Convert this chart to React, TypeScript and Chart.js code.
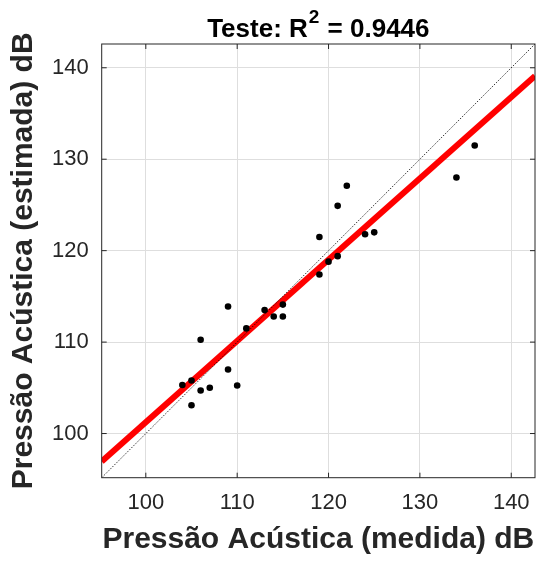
import React, { useEffect, useRef } from 'react';
import { Chart, registerables } from 'chart.js';

Chart.register(...registerables);

// Measured (x) vs estimated (y) acoustic pressure, dB
const measured = [119, 124, 125, 120, 121, 119, 109, 113, 114, 115, 115, 111, 106, 109, 104, 105, 106, 107, 110, 105, 122, 121, 134, 136];
const estimated = [121.5, 121.8, 122.0, 118.8, 119.4, 117.4, 113.9, 113.5, 112.8, 114.1, 112.8, 111.5, 110.25, 107.0, 105.3, 105.8, 104.7, 105.0, 105.25, 103.1, 127.1, 124.9, 128.0, 131.5];

// Fitted regression line
const fitX = [95.17, 142.6];
const fitY = [96.94, 139.1];

// Identity line y = x
const identityX = [95.17, 142.6];
const identityY = [95.17, 142.6];

const tickValues = [100, 110, 120, 130, 140];
const axisMin = 95.17;
const axisMax = 142.6;

const titleMain = 'Teste: R';
const titleSup = '2';
const titleRest = ' = 0.9446';
const xLabel = 'Pressão Acústica (medida) dB';
const yLabel = 'Pressão Acústica (estimada) dB';

const FONT = "'Liberation Sans', Arial, Helvetica, sans-serif";
const AXIS_COLOR = '#262626';

const boxPlugin = {
  id: 'boxPlugin',
  afterDatasetsDraw(chart: any) {
    const { ctx, chartArea, scales } = chart;
    const { left, right, top, bottom } = chartArea;
    ctx.save();
    ctx.strokeStyle = AXIS_COLOR;
    ctx.lineWidth = 1;
    ctx.beginPath();
    const tl = 5;
    tickValues.forEach((v) => {
      const px = scales.x.getPixelForValue(v);
      ctx.moveTo(px, bottom);
      ctx.lineTo(px, bottom - tl);
      ctx.moveTo(px, top);
      ctx.lineTo(px, top + tl);
      const py = scales.y.getPixelForValue(v);
      ctx.moveTo(left, py);
      ctx.lineTo(left + tl, py);
      ctx.moveTo(right, py);
      ctx.lineTo(right - tl, py);
    });
    ctx.stroke();
    ctx.strokeRect(left, top, right - left, bottom - top);

    // Title with superscript
    const mainFont = `bold 26px ${FONT}`;
    const supFont = `bold 19px ${FONT}`;
    ctx.fillStyle = '#000000';
    ctx.textBaseline = 'alphabetic';
    ctx.textAlign = 'left';
    ctx.font = mainFont;
    const w1 = ctx.measureText(titleMain).width;
    const w3 = ctx.measureText(titleRest).width;
    ctx.font = supFont;
    const w2 = ctx.measureText(titleSup).width;
    const total = w1 + w2 + 2 + w3;
    const cx = (left + right) / 2;
    let x = cx - total / 2;
    const baseY = 36.5;
    ctx.font = mainFont;
    ctx.fillText(titleMain, x, baseY);
    x += w1 + 1;
    ctx.font = supFont;
    ctx.fillText(titleSup, x, baseY - 13.3);
    x += w2 + 1;
    ctx.font = mainFont;
    ctx.fillText(titleRest, x, baseY);
    ctx.restore();
  },
};

export default function App() {
  const canvasRef = useRef<HTMLCanvasElement | null>(null);

  useEffect(() => {
    const canvas = canvasRef.current;
    if (!canvas) return;
    const points = measured.map((x, i) => ({ x, y: estimated[i] }));
    const fit = fitX.map((x, i) => ({ x, y: fitY[i] }));
    const ident = identityX.map((x, i) => ({ x, y: identityY[i] }));

    const chart = new Chart(canvas, {
      type: 'scatter',
      data: {
        datasets: [
          {
            label: 'Dados',
            data: points,
            backgroundColor: '#000000',
            borderColor: '#000000',
            pointRadius: 3.3,
            pointBorderWidth: 0,
            order: 0,
          },
          {
            type: 'line',
            label: 'Ajuste',
            data: fit,
            borderColor: '#ff0000',
            borderWidth: 6,
            pointRadius: 0,
            fill: false,
            order: 2,
          },
          {
            type: 'line',
            label: 'y = x',
            data: ident,
            borderColor: '#000000',
            borderWidth: 0.8,
            borderDash: [1.5, 1.5],
            pointRadius: 0,
            fill: false,
            order: 1,
          },
        ] as any,
      },
      options: {
        responsive: false,
        animation: false,
        layout: { autoPadding: false, padding: { top: 44, left: 0, right: 1, bottom: 0 } },
        plugins: {
          legend: { display: false },
          tooltip: { enabled: false },
          title: { display: false },
        },
        scales: {
          x: {
            type: 'linear',
            min: axisMin,
            max: axisMax,
            afterBuildTicks: (scale: any) => {
              scale.ticks = tickValues.map((v) => ({ value: v }));
            },
            afterFit: (scale: any) => {
              scale.height = 83.3;
              scale.paddingLeft = 0;
              scale.paddingRight = 0;
            },
            grid: { color: '#dedede', lineWidth: 1, drawTicks: false },
            border: { display: false },
            ticks: {
              color: AXIS_COLOR,
              font: { family: FONT, size: 22 },
              padding: 12,
              maxRotation: 0,
            },
            title: {
              display: true,
              text: xLabel,
              color: AXIS_COLOR,
              font: { family: FONT, size: 30, weight: 'bold', lineHeight: 1.2 },
              padding: { top: 0, bottom: 3.5 },
            },
          },
          y: {
            type: 'linear',
            min: axisMin,
            max: axisMax,
            afterBuildTicks: (scale: any) => {
              scale.ticks = tickValues.map((v) => ({ value: v }));
            },
            afterFit: (scale: any) => {
              scale.width = 101.7;
              scale.paddingTop = 0;
              scale.paddingBottom = 0;
            },
            grid: { color: '#dedede', lineWidth: 1, drawTicks: false },
            border: { display: false },
            ticks: {
              color: AXIS_COLOR,
              font: { family: FONT, size: 22 },
              padding: 13,
            },
            title: {
              display: true,
              text: yLabel,
              color: AXIS_COLOR,
              font: { family: FONT, size: 30, weight: 'bold', lineHeight: 1.2 },
              padding: { top: 6, bottom: 0 },
            },
          },
        },
      } as any,
      plugins: [boxPlugin],
    });
    return () => chart.destroy();
  }, []);

  return (
    <div style={{ position: 'fixed', left: 0, top: 0, width: 536, height: 561, background: '#ffffff' }}>
      <canvas ref={canvasRef} width={536} height={561} style={{ display: 'block' }} />
    </div>
  );
}
